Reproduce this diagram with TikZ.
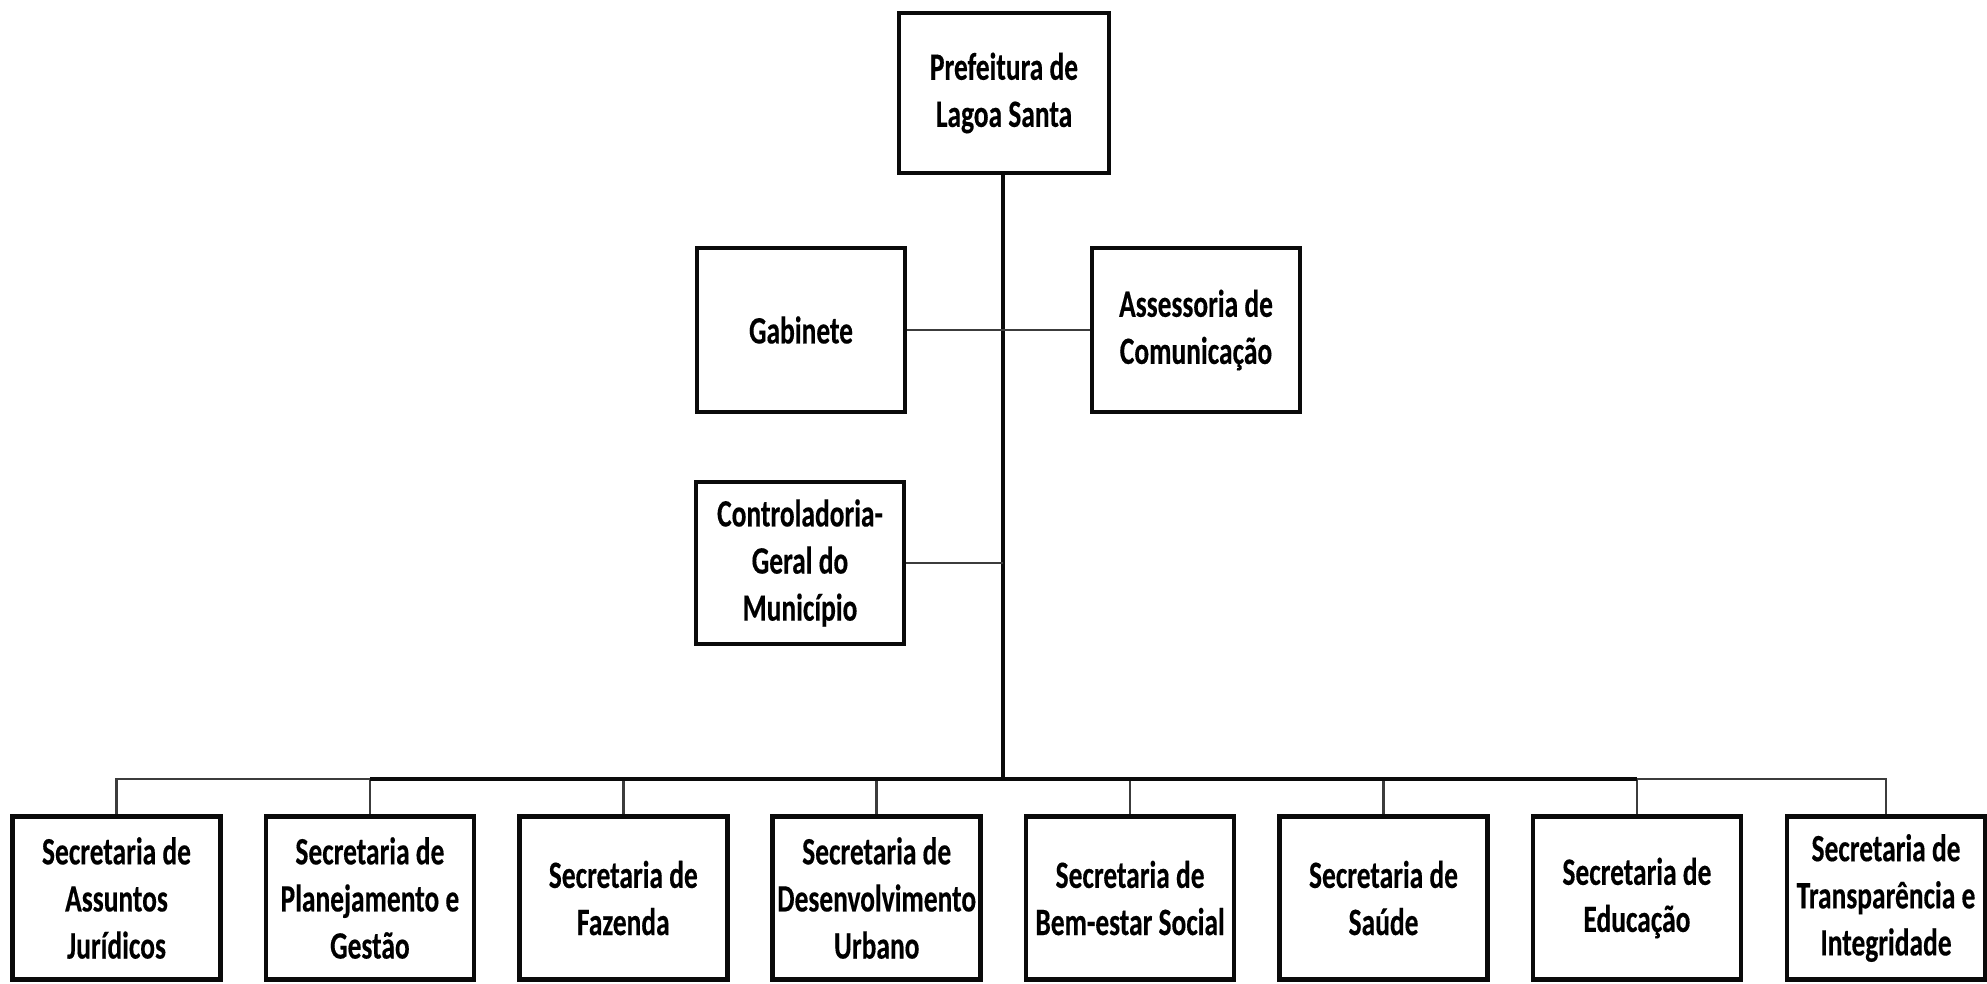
\documentclass[tikz,border=0pt]{standalone}
\usepackage{fontspec}
\setmainfont{Carlito}[FakeStretch=0.71, BoldFeatures={FakeBold=0.3}]
\usepackage{tikz}
\usetikzlibrary{positioning}
\definecolor{box_black}{RGB}{10,10,10}
\definecolor{link_gray}{RGB}{60,60,60}

\begin{document}
\begin{tikzpicture}[semithick]
    \tikzstyle{unit}=[draw=box_black, line width=1.3pt, rectangle, fill=white, inner sep=0pt,
                      minimum width=2.08cm, minimum height=1.63cm, align=center, text=black,
                      font=\bfseries\fontsize{11}{13.4}\selectfont]
    \tikzstyle{trunk}=[draw=box_black, line width=1.3pt]
    \tikzstyle{link}=[draw=link_gray, line width=0.75pt]

    \useasboundingbox (0,0) rectangle (19.87,-9.83);

    \node[unit, minimum width=2.10cm, minimum height=1.60cm] (pref) at (10.04,-0.93) {Prefeitura de\\Lagoa Santa};
    \node[unit, minimum height=1.64cm] (gab)  at (8.01,-3.30)  {Gabinete};
    \node[unit, minimum height=1.64cm] (asc)  at (11.96,-3.30) {Assessoria de\\Comunicação};
    \node[unit, minimum height=1.62cm] (ctrl) at (8.00,-5.63)  {Controladoria-\\Geral do\\Município};

    \node[unit] (s1) at (1.165,-8.98) {Secretaria de\\Assuntos\\Jurídicos};
    \node[unit] (s2) at (3.699,-8.98) {Secretaria de\\Planejamento e\\Gestão};
    \node[unit] (s3) at (6.233,-8.98) {Secretaria de\\Fazenda};
    \node[unit] (s4) at (8.767,-8.98) {Secretaria de\\Desenvolvimento\\Urbano};
    \node[unit] (s5) at (11.301,-8.98) {Secretaria de\\Bem-estar Social};
    \node[unit] (s6) at (13.835,-8.98) {Secretaria de\\Saúde};
    \node[unit] (s7) at (16.369,-8.98) {Secretaria de\\Educação};
    \node[unit, minimum width=1.98cm] (s8) at (18.86,-8.98) {Secretaria de\\Transparência e\\Integridade};

    \coordinate (bus) at (10.03,-7.79);
    \coordinate (ctrljoin) at (10.03,-5.63);

    % linha principal
    \draw[trunk] (pref.south -| bus) -- (bus);
    \draw[link] (gab.east) -- (asc.west);
    \draw[link] (ctrl.east) -- (ctrljoin);

    % secretarias
    \draw[link] (bus) -| (s1.north);
    \draw[link] (bus) -| (s2.north);
    \draw[link] (bus) -| (s3.north);
    \draw[link] (bus) -| (s4.north);
    \draw[link] (bus) -| (s5.north);
    \draw[link] (bus) -| (s6.north);
    \draw[link] (bus) -| (s7.north);
    \draw[link] (bus) -| (s8.north);
    \draw[trunk] (s2.north |- bus) -- (s7.north |- bus);
\end{tikzpicture}
\end{document}
